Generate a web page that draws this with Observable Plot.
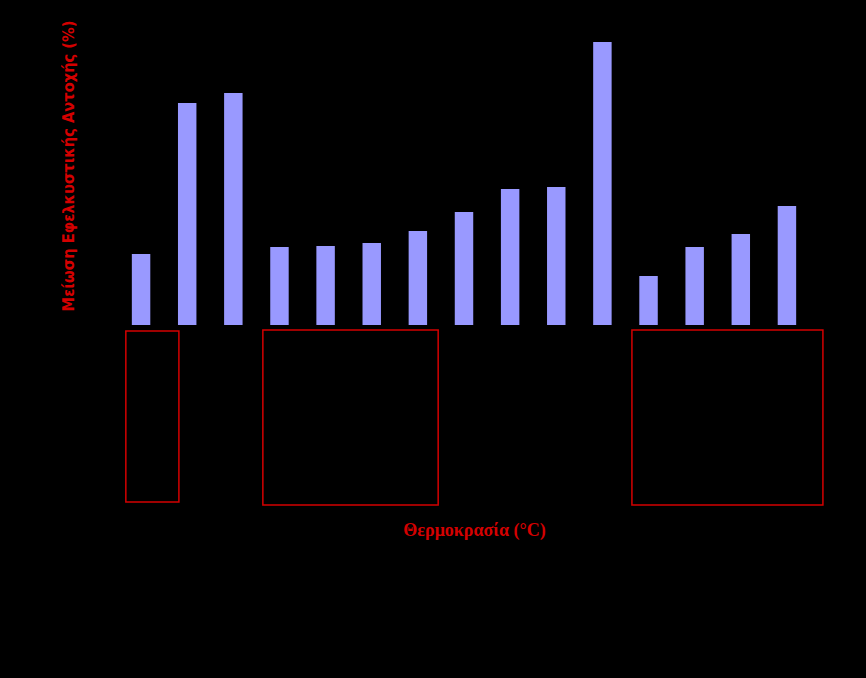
<!DOCTYPE html>
<html>
<head>
<meta charset="utf-8">
<script src="https://cdn.jsdelivr.net/npm/d3@7"></script>
<script src="https://cdn.jsdelivr.net/npm/@observablehq/plot@0.6"></script>
<style>
  html, body { margin: 0; padding: 0; background: #000; }
  #chart svg { display: block; }
</style>
</head>
<body>
<div id="chart"></div>
<script>
// Bar values (reduction of tensile strength, %)
const categories = ["1","2","3","4","5","6","7","8","9","10","11","12","13","14","15"];
const values = [7.1, 22.2, 23.2, 7.8, 7.9, 8.2, 9.4, 11.3, 13.6, 13.8, 28.3, 4.9, 7.8, 9.1, 11.9];

// Red highlight boxes below the axis (in category-index and value units)
const boxX1 = [-0.33, 2.64, 10.64];
const boxX2 = [0.82, 6.44, 14.78];
const boxY1 = [-0.6, -0.5, -0.5];
const boxY2 = [-17.7, -18.0, -18.0];

const yLabel = "Μείωση Εφελκυστικής Αντοχής (%)";
const xLabel = "Θερμοκρασία (°C)";

const bars = categories.map((c, i) => ({cat: c, i, value: values[i]}));
const boxes = boxX1.map((d, k) => ({x1: boxX1[k], x2: boxX2[k], y1: boxY1[k], y2: boxY2[k]}));

const red = "#d40000";
const chart = Plot.plot({
  width: 866,
  height: 678,
  marginLeft: 118,
  marginRight: 56,
  marginTop: 25,
  marginBottom: 168,
  style: {background: "#000"},
  x: {domain: [-0.5, 14.5], axis: null},
  y: {domain: [-18.5, 30], axis: null},
  marks: [
    Plot.rectY(bars, {x1: d => d.i - 0.2, x2: d => d.i + 0.2, y1: 0, y2: "value", fill: "#9999ff"}),
    Plot.rect(boxes, {x1: "x1", x2: "x2", y1: "y1", y2: "y2", fill: "none", stroke: red, strokeWidth: 1.5}),
    Plot.text([yLabel], {frameAnchor: "left", textAnchor: "middle", lineAnchor: "middle", dx: -50, dy: -102, rotate: -90, fill: red,
      fontSize: 16.3, fontWeight: "bold", fontFamily: "DejaVu Sans Condensed, DejaVu Sans, sans-serif"}),
    Plot.text([xLabel], {frameAnchor: "bottom", textAnchor: "middle", lineAnchor: "middle", dx: 10, dy: 20, fill: red,
      fontSize: 18, fontWeight: "bold", fontFamily: "Liberation Serif, serif"})
  ]
});
document.getElementById("chart").appendChild(chart);
</script>
</body>
</html>
